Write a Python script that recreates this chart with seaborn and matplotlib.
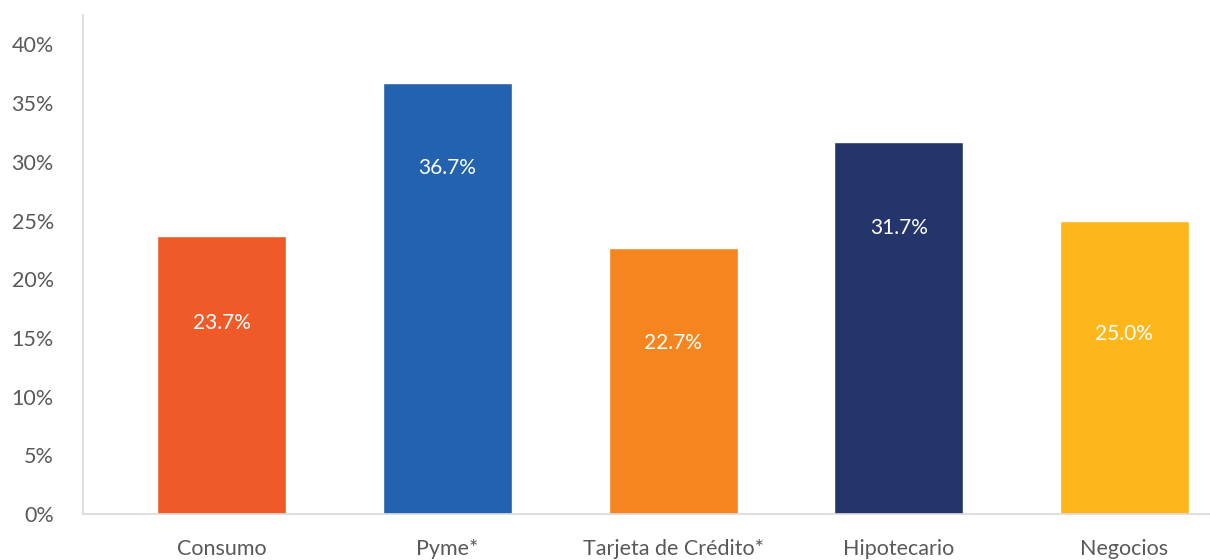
import matplotlib
matplotlib.use("Agg")
import matplotlib.pyplot as plt
import seaborn as sns
import pandas as pd
from matplotlib.ticker import FuncFormatter

# Share of portfolio by credit segment
segments = ["Consumo", "Pyme*", "Tarjeta de Crédito*", "Hipotecario", "Negocios"]
shares = [23.7, 36.7, 22.7, 31.7, 25.0]
y_ticks = [0, 5, 10, 15, 20, 25, 30, 35, 40]

palette = ["#F05A28", "#2262AE", "#F5861F", "#24356B", "#FDB71A"]
# vertical placement of the value label inside each bar (data units)
label_y = [16.3, 29.5, 14.6, 24.4, 15.3]

sns.set_theme(style="white")
plt.rcParams["font.family"] = ["Lato", "DejaVu Sans"]

df = pd.DataFrame({"segment": segments, "share": shares})

fig = plt.figure(figsize=(12.1, 5.6), dpi=100)
ax = fig.add_axes([0.0686, 0.0821, 0.9314, 0.891])

sns.barplot(data=df, x="segment", y="share", hue="segment", palette=palette,
            legend=False, width=0.572, saturation=1, ax=ax)

for i, (v, ly) in enumerate(zip(shares, label_y)):
    ax.text(i, ly, f"{v:.1f}%", ha="center", va="center",
            color="white", fontsize=15)

ax.set_xlim(-0.616, 4.38)
ax.set_ylim(0, 42.5)
ax.set_yticks(y_ticks)
ax.yaxis.set_major_formatter(FuncFormatter(lambda v, _: f"{v:.0f}%"))
ax.set_xlabel("")
ax.set_ylabel("")

ax.tick_params(axis="y", length=0, pad=21, labelsize=15.5, labelcolor="#595959")
ax.tick_params(axis="x", length=0, pad=18, labelsize=15.5, labelcolor="#595959")

for side in ["top", "right"]:
    ax.spines[side].set_visible(False)
for side in ["left", "bottom"]:
    ax.spines[side].set_color("#D9D9D9")
    ax.spines[side].set_linewidth(1.2)

fig.savefig("out.png", dpi=100)
